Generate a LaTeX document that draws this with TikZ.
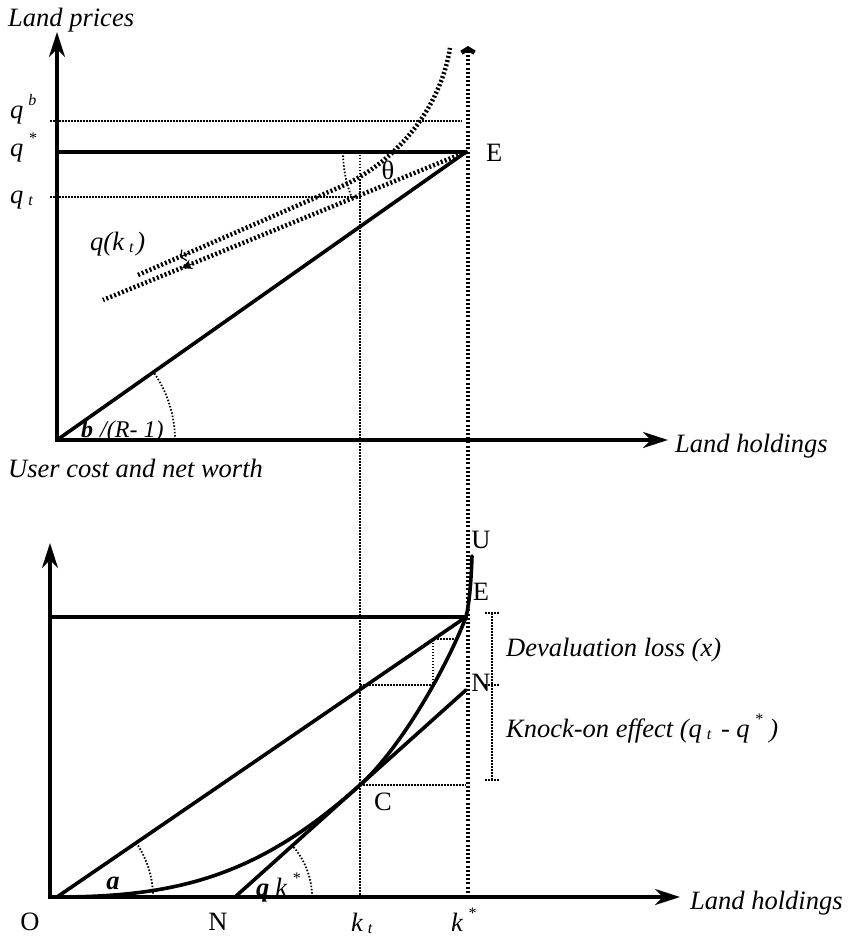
\documentclass[tikz,border=0pt]{standalone}
\usepackage{fontspec}
\setmainfont{Liberation Serif}
\usepackage{tikz}
\usetikzlibrary{positioning, arrows.meta}

\newcommand{\supmark}[1]{\hspace{5pt}\raisebox{13pt}{\fontsize{16}{16}\selectfont #1}}
\newcommand{\submark}[1]{\hspace{5pt}\raisebox{-2pt}{\fontsize{16}{16}\selectfont #1}\hspace{3pt}}

\tikzset{
  axisline/.style={line width=3.2pt, -{Stealth[length=25pt, width=16pt, inset=8pt]}},
  boldline/.style={line width=3.6pt, line cap=round},
  finedot/.style={line width=1.5pt, dash pattern=on 1.5pt off 1.5pt},
  arcdot/.style={line width=1.8pt, dash pattern=on 1.5pt off 1.8pt},
  heavydot/.style={line width=4.5pt, dash pattern=on 2pt off 2.2pt},
  lbl/.style={inner sep=0pt, font=\fontsize{26.5}{30}\selectfont\itshape},
  rmlbl/.style={inner sep=0pt, font=\fontsize{26.5}{30}\selectfont},
}

\begin{document}
\begin{tikzpicture}[x=1pt, y=-1pt]
  \useasboundingbox (0,0) rectangle (850,936);

  % upper panel: land prices
  \coordinate (Otop) at (57,440);
  \coordinate (Ytop) at (57,32);
  \coordinate (Xtop) at (668,440);
  \coordinate (Etop) at (466,152);
  \coordinate (qstar) at (57,152);
  \coordinate (qbl) at (50,121);
  \coordinate (qbr) at (462,121);
  \coordinate (qtl) at (50,197);
  \coordinate (qtr) at (360,197);
  \coordinate (kttop) at (360,152);
  \coordinate (ktbot) at (360,897);
  \coordinate (kstop) at (468,46);
  \coordinate (ksbot) at (468,897);
  \coordinate (lowend) at (103,300);
  \coordinate (upend) at (138,275);
  \coordinate (upbend) at (340,187);
  \coordinate (uptop) at (450,48);

  \draw[finedot] (qbl) -- (qbr);
  \draw[finedot] (qtl) -- (qtr);
  \draw[finedot] (kttop) -- (ktbot);
  \draw[heavydot, -{Straight Barb[length=4pt, width=13pt]}] (ksbot) -- (kstop);
  \draw[boldline] (qstar) -- (Etop);
  \draw[boldline] (Otop) -- (Etop);
  \draw[heavydot] (Etop) -- (lowend);
  \draw[heavydot] (upend) -- (upbend) .. controls (395,163) and (440,110) .. (uptop);
  \draw[-{Straight Barb[length=4pt, width=12pt]}, line width=1.2pt] (188,253.5) -- (180,257);
  \draw[-{Stealth[length=10pt, width=10pt]}, line width=1pt] (192,264) -- (182,268);
  \draw[arcdot] ([shift={(0:118)}]Otop) arc[start angle=0, end angle=-35.2, radius=118];
  \draw[arcdot] ([shift={(180:123)}]Etop) arc[start angle=180, end angle=157.8, radius=123];
  \draw[axisline] ([yshift=2pt]Otop) -- (Ytop);
  \draw[axisline] ([xshift=-2pt]Otop) -- (Xtop);

  \node[lbl, anchor=base west] (landp) at (8,27) {Land prices};
  \node[lbl, anchor=base west] (qb) at (10,119) {q\supmark{b}};
  \node[lbl, anchor=base west] (qs) at (10,157) {q\supmark{*}};
  \node[lbl, anchor=base west] (qt) at (10,203) {q\submark{t}};
  \node[rmlbl, anchor=base west] (elbltop) at (486,162) {E};
  \node[rmlbl] (theta) at (388,170) {θ};
  \node[lbl, anchor=base west] (qkt) at (90,250) {q(k\submark{t})};
  \node[lbl, font=\fontsize{24}{28}\selectfont\itshape, anchor=base west] (beta) at (81,437) {\textbf{b}\hspace{7pt}/(R- 1)};
  \node[lbl, anchor=west] (holdtop) at (675,446) {Land holdings};

  % lower panel: user cost and net worth
  \coordinate (Ybot) at (50,543);
  \coordinate (Obot) at (57,897);
  \coordinate (Xbot) at (680,897);
  \coordinate (Ebot) at (466,617);
  \coordinate (eleft) at (50,617);
  \coordinate (C) at (360,785);
  \coordinate (cright) at (466,785);
  \coordinate (Nax) at (235,897);
  \coordinate (Nk) at (466,690);
  \coordinate (Utip) at (472,556);
  \coordinate (dl) at (360,685);
  \coordinate (dm) at (433,685);
  \coordinate (du) at (433,639);
  \coordinate (dr) at (457,639);

  \draw[boldline] (eleft) -- (Ebot);
  \draw[boldline] (Obot) -- (Ebot);
  \draw[boldline] (Nax) -- (Nk);
  \draw[boldline] (Obot) .. controls (180,897) and (260,874.6) .. (C)
    .. controls (400,749) and (446,669) .. (Ebot)
    .. controls (469,605) and (471,585) .. (Utip);
  \draw[finedot] (C) -- (cright);
  \draw[finedot] (dl) -- (dm) -- (du) -- (dr);
  \draw[finedot] (492,613) -- (492,780);
  \draw[finedot] (485,613) -- (499,613);
  \draw[finedot] (485,685) -- (499,685);
  \draw[finedot] (485,780) -- (499,780);
  \draw[arcdot] ([shift={(0:96)}]Obot) arc[start angle=0, end angle=-34.4, radius=96];
  \draw[arcdot] ([shift={(0:77)}]Nax) arc[start angle=0, end angle=-41.9, radius=77];
  \draw[axisline] (50,899) -- (Ybot);
  \draw[axisline] (48,897) -- (Xbot);

  \node[lbl, anchor=base west] (ucost) at (8,477) {User cost and net worth};
  \node[rmlbl] (ulbl) at (481,540) {U};
  \node[rmlbl] (elblbot) at (481,592) {E};
  \node[rmlbl] (nlbl) at (481,683) {N};
  \node[rmlbl] (clbl) at (383,802) {C};
  \node[lbl, anchor=base west] (deval) at (506,656) {Devaluation loss (x)};
  \node[lbl, anchor=base west] (knock) at (506,737) {Knock-on effect (q\submark{t} - q\supmark{*} )};
  \node[lbl] (alpha) at (113,883) {\textbf{a}};
  \node[lbl, anchor=base west] (thk) at (256,896) {\textbf{q}\hspace{6pt}k\supmark{*}};
  \node[rmlbl] (olbl) at (30,922) {O};
  \node[rmlbl] (nax) at (218,922) {N};
  \node[lbl, anchor=base west] (ktlbl) at (351,931) {k\submark{t}};
  \node[lbl, anchor=base west] (kslbl) at (451,931) {k\supmark{*}};
  \node[lbl, anchor=west] (holdbot) at (690,903) {Land holdings};
\end{tikzpicture}
\end{document}
